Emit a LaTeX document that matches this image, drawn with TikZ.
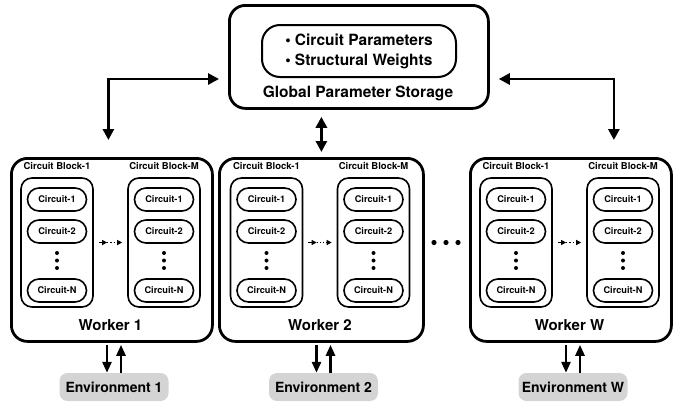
\documentclass[tikz,border=0pt]{standalone}
\usepackage{fontspec}
\setmainfont{TeX Gyre Heros}
\usetikzlibrary{arrows.meta}

\begin{document}
\begin{tikzpicture}[x=1pt, y=-1pt,
    outerbox/.style={draw, line width=2.8pt, rounded corners=16pt, inner sep=0pt},
    parambox/.style={draw, line width=2pt, rounded corners=18pt, minimum width=194pt, minimum height=52pt,
        align=left, font=\bfseries\fontsize{15.5}{20}\selectfont},
    bigtext/.style={font=\bfseries\fontsize{15.5}{18}\selectfont, inner sep=0pt},
    workertext/.style={font=\bfseries\fontsize{15}{17}\selectfont, inner sep=0pt},
    blocktext/.style={font=\bfseries\fontsize{9.5}{11}\selectfont, inner sep=0pt},
    blockbox/.style={draw, line width=1.6pt, rounded corners=11pt, minimum width=72pt, minimum height=129pt},
    circbox/.style={draw, line width=1.6pt, rounded corners=11.5pt, minimum width=59pt, minimum height=23pt,
        inner sep=0pt, font=\bfseries\fontsize{9.2}{10}\selectfont},
    envbox/.style={fill=black!17, rounded corners=8pt, minimum width=109pt, minimum height=28pt,
        inner sep=0pt, font=\bfseries\fontsize{14}{16}\selectfont},
    link/.style={line width=2.8pt, {Triangle[length=11pt,width=11pt]}-{Triangle[length=11pt,width=11pt]}},
    oneway/.style={line width=2.6pt, -{Triangle[length=11pt,width=9pt]}},
    tiny/.style={line width=1.2pt, -{Triangle[length=5pt,width=5pt]}}
]
    % Parameters
    \def\wtop{157}
    \def\wheight{183}
    \def\boff{53.5}

    \useasboundingbox (0,0) rectangle (694,402);

    % Global parameter storage
    \node[outerbox, anchor=north west, minimum width=259pt, minimum height=103pt] (store) at (228,4) {};
    \node[parambox] (params) at (359,51) {\textbullet\ Circuit Parameters\\\textbullet\ Structural Weights};
    \node[bigtext, anchor=base] (storelab) at (358,97) {Global Parameter Storage};

    % Workers, blocks and environments
    \foreach \L/\W/\id/\num in {10/201/1/1, 218/204/2/2, 469/201/3/W} {
        \pgfmathsetmacro{\cx}{\L+\W/2}
        \node[outerbox, anchor=north west, minimum width=\W pt, minimum height=\wheight pt] (w\id) at (\L,\wtop) {};
        \node[workertext, anchor=base] (w\id-lab) at (\cx,330) {Worker \num};

        \foreach \side/\s in {1/-1, M/1} {
            \pgfmathsetmacro{\bx}{\cx+\s*\boff}
            \node[blocktext] (w\id-b\side-lab) at (\bx,166) {Circuit Block-\side};
            \node[blockbox] (w\id-b\side) at (\bx,242.5) {};
            \foreach \c/\y in {1/199.5, 2/231.5, N/290.5}
                \node[circbox] (w\id-b\side-c\c) at (\bx,\y) {Circuit-\c};
            \foreach \y in {253,260.5,268}
                \fill (\bx,\y) circle (2pt); % vertical dots
        }

        % block to block
        \path (w\id-b1.east) -- coordinate[pos=0.4] (w\id-mid) (w\id-bM.west);
        \draw[tiny, shorten <=5pt] (w\id-b1.east) -- (w\id-mid);
        \draw[tiny, dotted, shorten >=5pt] (w\id-mid) -- (w\id-bM.west);

        % environment
        \node[envbox] (e\id) at (\cx+3.5,387) {Environment \num};
        \coordinate (e\id-dn) at ([xshift=-7pt]e\id.north);
        \coordinate (e\id-up) at ([xshift=7pt]e\id.north);
        \draw[oneway, shorten <=2pt] (w\id.south -| e\id-dn) -- (e\id-dn);
        \draw[oneway, shorten >=2pt] (e\id-up) -- (w\id.south -| e\id-up);
    }

    % more workers
    \foreach \x in {434,446,458}
        \fill (\x,242.5) circle (2.6pt);

    % storage links
    \draw[link, shorten <=9pt, shorten >=17pt] (store.west |- 0,79) -| ([xshift=-3.5pt]w1.north);
    \draw[link, shorten <=9pt, shorten >=17pt] (store.east |- 0,79) -| ([xshift=43pt]w3.north);
    \draw[link, shorten <=7pt, shorten >=5pt] (store.south -| w2.north) -- (w2.north);
\end{tikzpicture}
\end{document}
